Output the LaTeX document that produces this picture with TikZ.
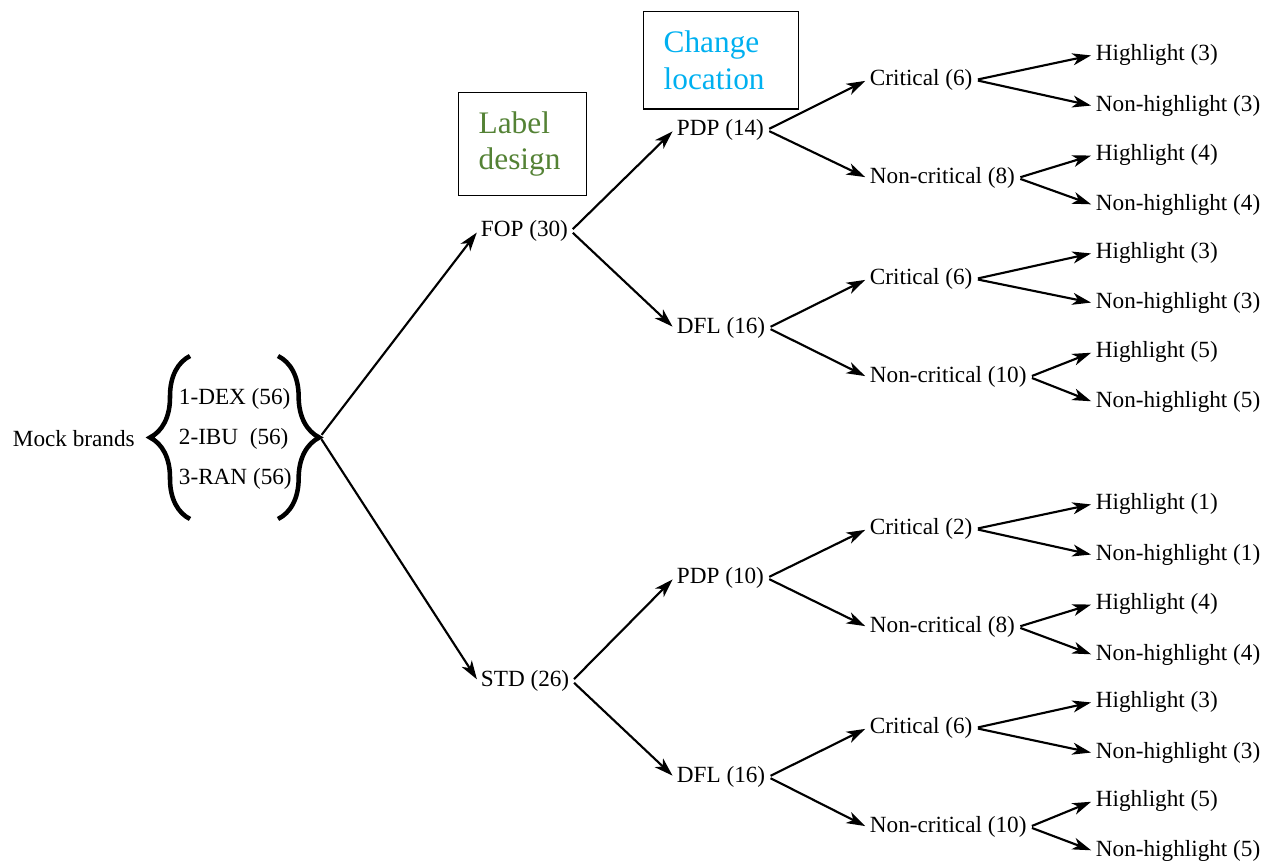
\documentclass[tikz,border=0pt]{standalone}
\usepackage{fontspec}
\setmainfont{Liberation Serif}
\usetikzlibrary{arrows.meta, decorations.pathreplacing}
\definecolor{labelgreen}{RGB}{84,130,53}
\definecolor{changecyan}{RGB}{0,176,240}
\tikzset{
  tree/.style={anchor=west, inner sep=2pt, yshift=-1.5pt, font=\fontsize{17.4}{21}\selectfont},
  branch/.style={line width=1.6pt, shorten <=2pt, shorten >=1.5pt, -{Stealth[length=14pt, width=9pt, inset=4pt]}},
  stagebox/.style={draw, line width=1pt, anchor=north west, align=left, inner xsep=15pt, font=\fontsize{23.5}{27.5}\selectfont},
  curly/.style={decorate, decoration={brace, amplitude=#1}, line width=3.4pt}
}

\begin{document}
\begin{tikzpicture}[x=0.75pt,y=0.75pt,yscale=-1,xscale=1]
\useasboundingbox (0,0) rectangle (1271,862);

% Boxes
\node [stagebox, text width=66pt, minimum height=77pt, text=labelgreen] (labelbox) at (458,92) {Label\\design};
\node [stagebox, text width=86pt, minimum height=73pt, text=changecyan] (changebox) at (643,11) {Change\\location};

% Mock brands and braces
\node [tree] (mock) at (10,437) {Mock brands};
\node [tree] (dex) at (176,397) {1-DEX (56)};
\node [tree] (ibu) at (176,437) {2-IBU~~(56)};
\node [tree] (ran) at (176,477) {3-RAN (56)};
\draw [curly=30pt] (190,519) -- (190,356);
\draw [curly=31pt] (278,356) -- (278,519);
\coordinate (brandtip) at (320,437);

% Text Node
\node [tree] (fop) at (478,229) {FOP (30)};
\node [tree] (std) at (478,679) {STD (26)};
\node [tree] (pdpA) at (674,128) {PDP (14)};
\node [tree] (dflA) at (674,326) {DFL (16)};
\node [tree] (pdpB) at (674,576) {PDP (10)};
\node [tree] (dflB) at (674,775) {DFL (16)};

\node [tree] (critAA) at (867,78) {Critical (6)};
\node [tree] (ncritAA) at (867,176) {Non-critical (8)};
\node [tree] (critAB) at (867,277) {Critical (6)};
\node [tree] (ncritAB) at (867,375) {Non-critical (10)};
\node [tree] (critBA) at (867,527) {Critical (2)};
\node [tree] (ncritBA) at (867,625) {Non-critical (8)};
\node [tree] (critBB) at (867,726) {Critical (6)};
\node [tree] (ncritBB) at (867,825) {Non-critical (10)};

\node [tree] (hlAA) at (1093,53) {Highlight (3)};
\node [tree] (nhlAA) at (1093,104) {Non-highlight (3)};
\node [tree] (hlAAn) at (1093,153) {Highlight (4)};
\node [tree] (nhlAAn) at (1093,203) {Non-highlight (4)};
\node [tree] (hlAB) at (1093,251) {Highlight (3)};
\node [tree] (nhlAB) at (1093,301) {Non-highlight (3)};
\node [tree] (hlABn) at (1093,350) {Highlight (5)};
\node [tree] (nhlABn) at (1093,400) {Non-highlight (5)};
\node [tree] (hlBA) at (1093,502) {Highlight (1)};
\node [tree] (nhlBA) at (1093,553) {Non-highlight (1)};
\node [tree] (hlBAn) at (1093,602) {Highlight (4)};
\node [tree] (nhlBAn) at (1093,653) {Non-highlight (4)};
\node [tree] (hlBB) at (1093,700) {Highlight (3)};
\node [tree] (nhlBB) at (1093,751) {Non-highlight (3)};
\node [tree] (hlBBn) at (1093,799) {Highlight (5)};
\node [tree] (nhlBBn) at (1093,849) {Non-highlight (5)};

% Branches
\draw [branch] (brandtip) -- (fop.west);
\draw [branch] (brandtip) -- (std.west);
\draw [branch] (fop.east) -- (pdpA.west);
\draw [branch] (fop.east) -- (dflA.west);
\draw [branch] (std.east) -- (pdpB.west);
\draw [branch] (std.east) -- (dflB.west);

\draw [branch] (pdpA.east) -- (critAA.west);
\draw [branch] (pdpA.east) -- (ncritAA.west);
\draw [branch] (dflA.east) -- (critAB.west);
\draw [branch] (dflA.east) -- (ncritAB.west);
\draw [branch] (pdpB.east) -- (critBA.west);
\draw [branch] (pdpB.east) -- (ncritBA.west);
\draw [branch] (dflB.east) -- (critBB.west);
\draw [branch] (dflB.east) -- (ncritBB.west);

\draw [branch] (critAA.east) -- (hlAA.west);
\draw [branch] (critAA.east) -- (nhlAA.west);
\draw [branch] (ncritAA.east) -- (hlAAn.west);
\draw [branch] (ncritAA.east) -- (nhlAAn.west);
\draw [branch] (critAB.east) -- (hlAB.west);
\draw [branch] (critAB.east) -- (nhlAB.west);
\draw [branch] (ncritAB.east) -- (hlABn.west);
\draw [branch] (ncritAB.east) -- (nhlABn.west);
\draw [branch] (critBA.east) -- (hlBA.west);
\draw [branch] (critBA.east) -- (nhlBA.west);
\draw [branch] (ncritBA.east) -- (hlBAn.west);
\draw [branch] (ncritBA.east) -- (nhlBAn.west);
\draw [branch] (critBB.east) -- (hlBB.west);
\draw [branch] (critBB.east) -- (nhlBB.west);
\draw [branch] (ncritBB.east) -- (hlBBn.west);
\draw [branch] (ncritBB.east) -- (nhlBBn.west);
\end{tikzpicture}
\end{document}
